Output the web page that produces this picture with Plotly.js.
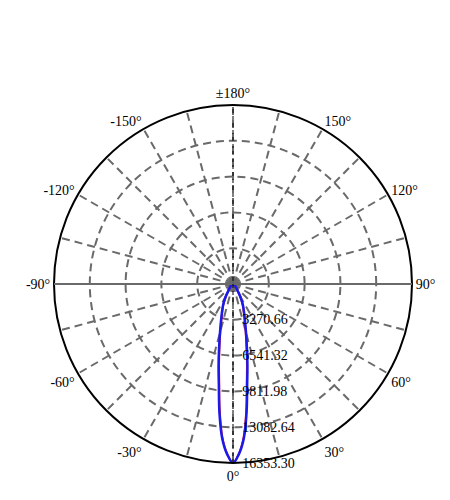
<!DOCTYPE html>
<html>
<head>
<meta charset="utf-8">
<script src="https://cdn.plot.ly/plotly-3.0.1.min.js"></script>
<style>
  html, body { margin: 0; padding: 0; background: #fff; }
  #chart { width: 450px; height: 500px; }
</style>
</head>
<body>
<div id="chart"></div>
<script>
// luminous intensity curve (cd)
var angles = [-180, -150, -120, -90, -80, -70, -60, -50, -45, -40, -35, -30, -25, -20, -15, -12, -10, -8, -6, -4, -2, 0,
  2, 4, 6, 8, 10, 12, 15, 20, 25, 30, 35, 40, 45, 50, 60, 70, 80, 90, 120, 150, 180]
var planeC0 = [0, 0, 0, 0, 25, 60, 120, 230, 330, 480, 700, 1350, 2150, 3050, 4600, 6150, 7600, 9300, 11850, 14150, 15550, 16353.3,
  15550, 14150, 11850, 9300, 7600, 6150, 4600, 3050, 2150, 1350, 700, 480, 330, 230, 120, 60, 25, 0, 0, 0, 0]
var planeC90 = [0, 0, 0, 0, 25, 60, 120, 220, 320, 460, 680, 1300, 2080, 2950, 4450, 5950, 7350, 9050, 11600, 14000, 15500, 16353.3,
  15500, 14000, 11600, 9050, 7350, 5950, 4450, 2950, 2080, 1300, 680, 460, 320, 220, 120, 60, 25, 0, 0, 0, 0]

var rTicks = [3270.66, 6541.32, 9811.98, 13082.64, 16353.30]
var rMax = 16353.30
var thetaTicks = [0, 15, 30, 45, 60, 75, 90, 105, 120, 135, 150, 165, 180,
  195, 210, 225, 240, 255, 270, 285, 300, 315, 330, 345]
var thetaLabels = ['0°', '', '30°', '', '60°', '', '90°', '', '120°', '', '150°', '', '±180°',
  '', '-150°', '', '-120°', '', '-90°', '', '-60°', '', '-30°', '']

var serif = 'Times New Roman, Liberation Serif, serif'

var traces = [
  {
    type: 'scatterpolar', mode: 'lines',
    r: planeC90, theta: angles,
    line: {color: '#dd1111', width: 2, shape: 'spline'},
    hoverinfo: 'skip'
  },
  {
    type: 'scatterpolar', mode: 'lines',
    r: planeC0, theta: angles,
    line: {color: '#1a1aee', width: 2.5, shape: 'spline'},
    hoverinfo: 'skip'
  }
]

var layout = {
  width: 450, height: 500,
  margin: {l: 0, r: 0, t: 0, b: 0},
  paper_bgcolor: '#fff',
  showlegend: false,
  font: {family: serif, size: 14, color: '#000'},
  polar: {
    domain: {x: [54/450, 412/450], y: [37/500, 395/500]},
    bgcolor: 'rgba(0,0,0,0)',
    angularaxis: {
      rotation: -90,
      direction: 'counterclockwise',
      tickmode: 'array',
      tickvals: thetaTicks,
      ticktext: thetaLabels,
      ticks: '',
      showline: true,
      linecolor: '#000',
      linewidth: 2,
      gridcolor: '#6a6a6a',
      gridwidth: 2,
      griddash: '8px,5px',
      tickfont: {family: serif, size: 14, color: '#000'}
    },
    radialaxis: {
      range: [0, rMax],
      angle: -90,
      tickangle: -90,
      side: 'counterclockwise',
      tickmode: 'array',
      tickvals: rTicks,
      ticktext: rTicks.map(function (v) { return v.toFixed(2) }),
      ticks: 'outside',
      ticklen: 6,
      tickcolor: 'rgba(0,0,0,0)',
      showline: false,
      gridcolor: '#6a6a6a',
      gridwidth: 2,
      griddash: '8px,5px',
      tickfont: {family: serif, size: 14, color: '#000'}
    }
  },
  shapes: [
    {type: 'line', xref: 'paper', yref: 'paper', x0: 54/450, x1: 412/450, y0: 216/500, y1: 216/500,
      line: {color: '#6a6a6a', width: 2}, layer: 'above'},
    {type: 'line', xref: 'paper', yref: 'paper', x0: 233/450, x1: 233/450, y0: 37/500, y1: 395/500,
      line: {color: '#000', width: 1, dash: '4px,3px'}, layer: 'above'}
  ]
}

Plotly.newPlot('chart', traces, layout, {displayModeBar: false, staticPlot: true})
</script>
</body>
</html>
